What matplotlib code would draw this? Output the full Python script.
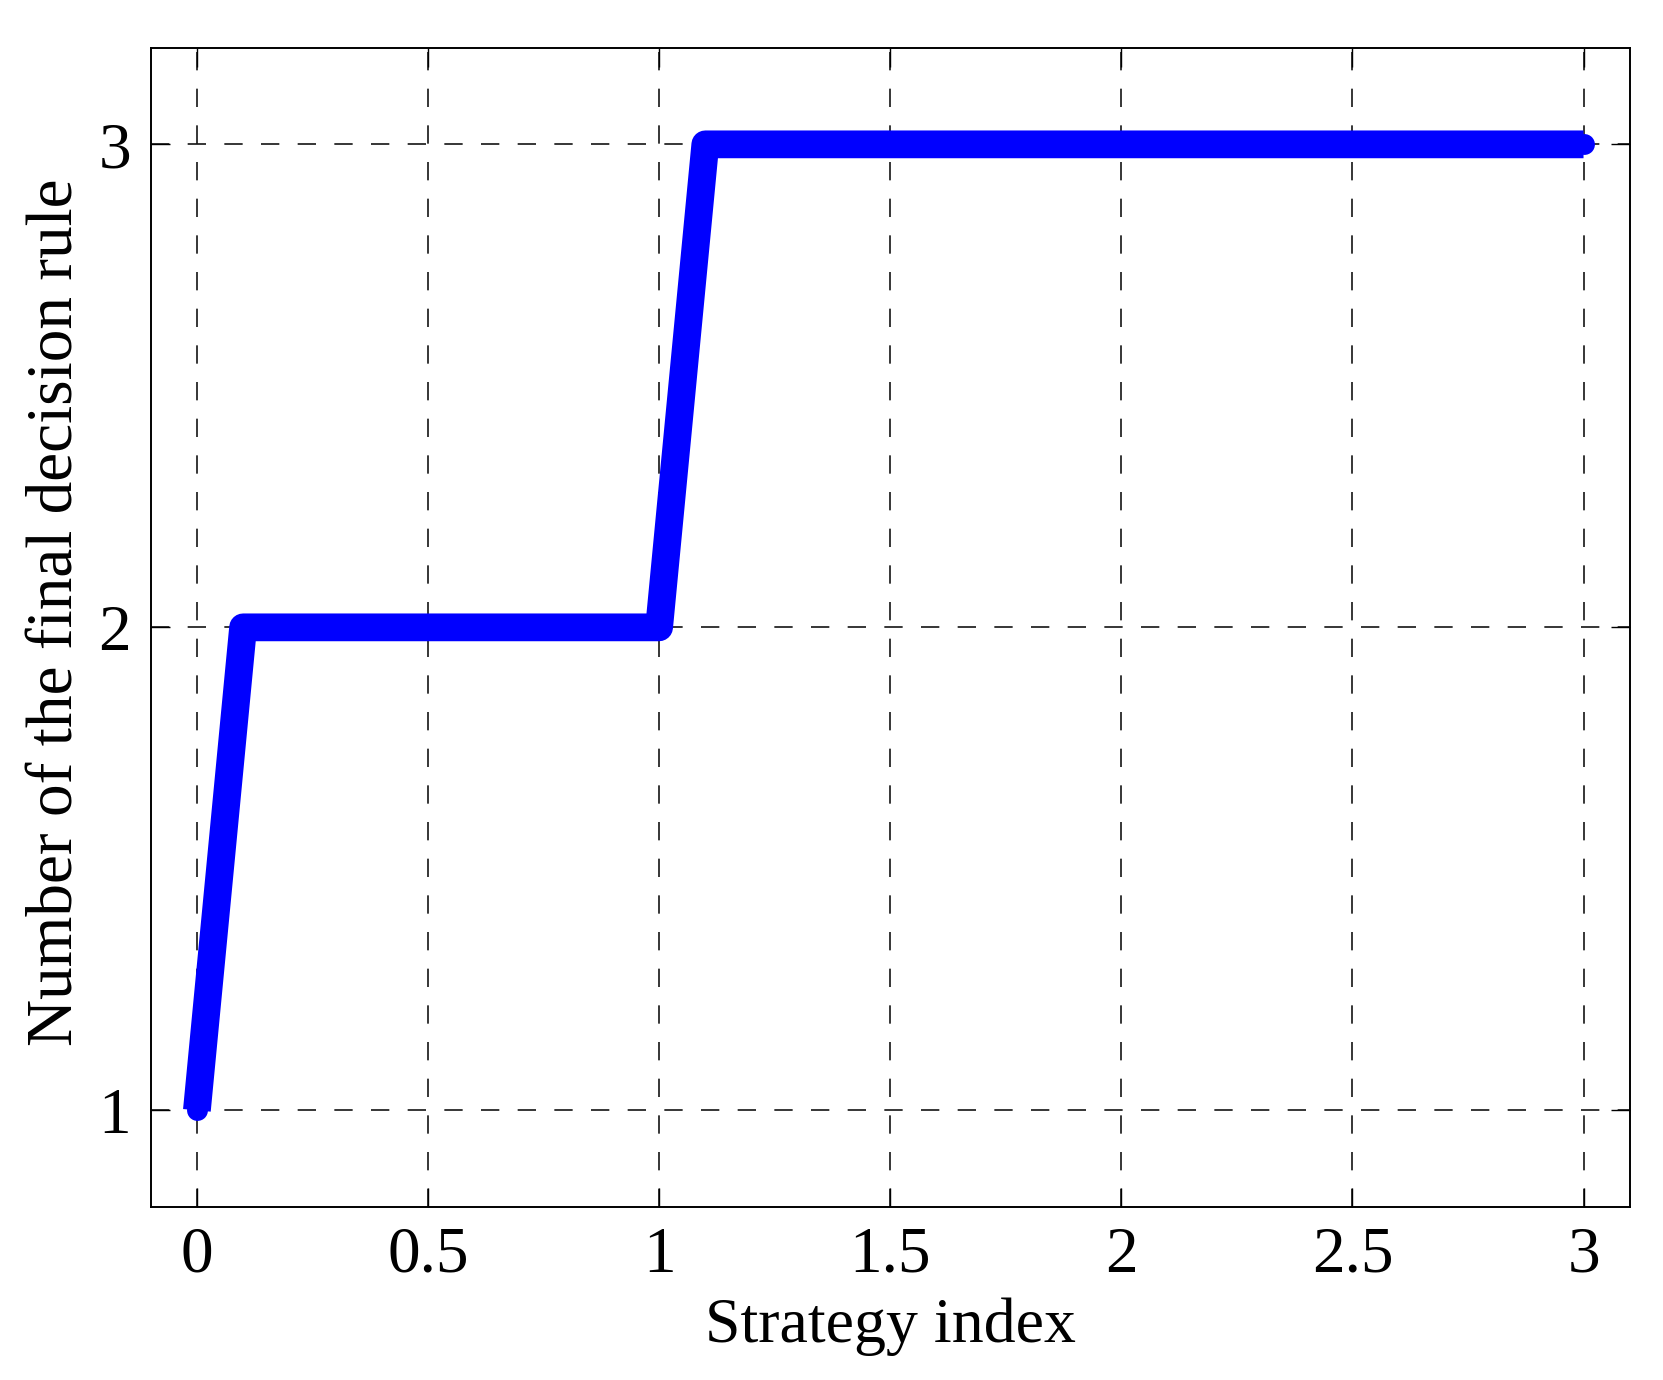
import matplotlib.pyplot as plt

# strategy index vs. number of the final decision rule
strategy_index = [0.0, 0.1, 1.0, 1.1, 3.0]
rule_number = [1, 2, 2, 3, 3]

x_ticks = [0, 0.5, 1, 1.5, 2, 2.5, 3]
x_tick_labels = ["0", "0.5", "1", "1.5", "2", "2.5", "3"]
y_ticks = [1, 2, 3]

plt.rcParams['font.family'] = ['Liberation Serif', 'DejaVu Serif']

fig = plt.figure(figsize=(16.63, 13.8), dpi=100)
ax = fig.add_axes([0.0906, 0.1254, 0.8894, 0.84])

ax.plot(strategy_index, rule_number, color=(0, 0, 1), linewidth=20,
        solid_joinstyle='round', solid_capstyle='butt',
        marker='o', markersize=15, markeredgewidth=0, zorder=3)

ax.set_xlim(-0.1, 3.1)
ax.set_ylim(0.8, 3.2)
ax.set_xticks(x_ticks)
ax.set_xticklabels(x_tick_labels)
ax.set_yticks(y_ticks)

ax.grid(True, color='black', linewidth=1.1, linestyle=(0, (12, 12)))
ax.tick_params(direction='in', length=14, width=1.0, labelsize=47,
               top=True, right=True, pad=14)
for s in ax.spines.values():
    s.set_linewidth(1.4)

ax.set_xlabel("Strategy index", fontsize=46, labelpad=8)
ax.set_ylabel("Number of the final decision rule", fontsize=47)
ax.yaxis.set_label_coords(-0.0435, 0.513)

fig.savefig("out.png", dpi=100)
